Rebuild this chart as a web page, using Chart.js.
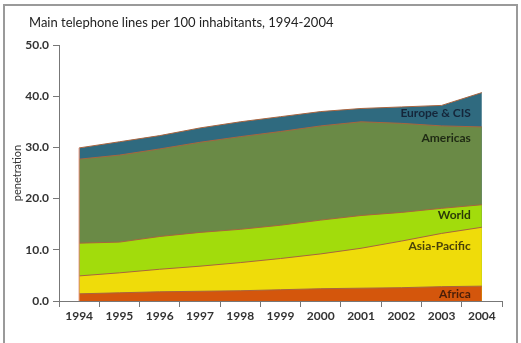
<!DOCTYPE html>
<html>
<head>
<meta charset="utf-8">
<script src="https://cdn.jsdelivr.net/npm/chart.js@4.4.1/dist/chart.umd.min.js"></script>
<style>
  html, body { margin: 0; padding: 0; background: #fff; }
  #wrap { position: relative; width: 521px; height: 343px; overflow: hidden; }
  #frame { position: absolute; left: 3px; top: 4px; width: 515px; height: 360px; border: 2px solid #9a9a9a; box-sizing: border-box; }
  #title { position: absolute; left: 29px; top: 14px; font: 13px Lato, sans-serif; color: #222; }
  canvas { position: absolute; left: 0; top: 0; }
</style>
</head>
<body>
<div id="wrap">
  <div id="frame"></div>
  <canvas id="myChart" width="521" height="343"></canvas>
  <div id="title">Main telephone lines per 100 inhabitants, 1994-2004</div>
</div>
<script>
  const years = ["1994", "1995", "1996", "1997", "1998", "1999", "2000", "2001", "2002", "2003", "2004"];

  const africa      = [1.4, 1.6, 1.8, 1.9, 2.0, 2.2, 2.4, 2.5, 2.6, 2.8, 2.9];
  const asiaPacific = [4.9, 5.5, 6.2, 6.8, 7.5, 8.3, 9.2, 10.3, 11.7, 13.2, 14.4];
  const world       = [11.3, 11.5, 12.6, 13.4, 14.0, 14.8, 15.8, 16.7, 17.3, 18.1, 18.8];
  const americas    = [27.7, 28.5, 29.7, 31.0, 32.1, 33.1, 34.2, 35.0, 34.7, 34.2, 34.0];
  const europeCis   = [29.9, 31.1, 32.3, 33.8, 35.0, 36.0, 37.0, 37.6, 37.9, 38.2, 40.7];

  const seriesNames = ["Africa", "Asia-Pacific", "World", "Americas", "Europe & CIS"];
  const yTicks = [0, 10, 20, 30, 40, 50];

  function makeSet(label, data, fill, text, drop) {
    return {
      label: label,
      data: data,
      backgroundColor: fill,
      borderColor: "#a8643f",
      borderWidth: 1,
      fill: "origin",
      pointRadius: 0,
      tension: 0,
      textColor: text,
      labelDrop: drop
    };
  }

  // drop = pixels below the 2004 value where the series name sits
  const datasets = [
    makeSet(seriesNames[0], africa, "#d4560c", "#4a1e08", 8),
    makeSet(seriesNames[1], asiaPacific, "#efdc0a", "#4a4208", 19),
    makeSet(seriesNames[2], world, "#a2dc0c", "#2b3a08", 10),
    makeSet(seriesNames[3], americas, "#6a8a46", "#1f2a14", 11),
    makeSet(seriesNames[4], europeCis, "#2f6a7f", "#15263a", 21)
  ];

  const areaLabels = {
    id: "areaLabels",
    afterDatasetsDraw(chart) {
      const ctx = chart.ctx;
      const x = chart.scales.x;
      const y = chart.scales.y;
      const last = years.length - 1;
      ctx.save();
      // left edge of the areas
      ctx.strokeStyle = "#e08a70";
      ctx.lineWidth = 1;
      ctx.beginPath();
      ctx.moveTo(x.getPixelForValue(0), y.getPixelForValue(europeCis[0]));
      ctx.lineTo(x.getPixelForValue(0), y.getPixelForValue(0));
      ctx.stroke();

      ctx.font = "bold 12px Lato, sans-serif";
      ctx.textAlign = "right";
      ctx.textBaseline = "middle";
      chart.data.datasets.forEach((ds) => {
        const px = x.getPixelForValue(last) - 11;
        const py = y.getPixelForValue(ds.data[last]) + ds.labelDrop;
        ctx.fillStyle = ds.textColor;
        ctx.fillText(ds.label, px, py);
      });
      ctx.restore();
    }
  };

  new Chart(document.querySelector("#myChart"), {
    type: "line",
    data: { labels: years, datasets: datasets },
    options: {
      responsive: false,
      animation: false,
      layout: { padding: { left: 11, right: 19, top: 45, bottom: 10 } },
      plugins: { legend: { display: false }, tooltip: { enabled: false } },
      scales: {
        x: {
          offset: true,
          grid: { offset: true, drawOnChartArea: false, tickLength: 6, color: "#777" },
          border: { color: "#777" },
          ticks: { color: "#333", font: { family: "Lato", size: 12, weight: "bold" }, maxRotation: 0, padding: 2 },
          afterFit(scale) { scale.height = 32; }
        },
        y: {
          min: 0,
          max: 50,
          afterBuildTicks(scale) { scale.ticks = yTicks.map((v) => ({ value: v })); },
          grid: { drawOnChartArea: false, tickLength: 6, color: "#777" },
          border: { color: "#777" },
          ticks: { color: "#333", font: { family: "Lato", size: 12, weight: "bold" }, padding: 4,
                   callback: (v) => Number(v).toFixed(1) },
          title: { display: true, text: "penetration", color: "#333", font: { family: "Lato", size: 11 }, padding: 0 },
          afterFit(scale) { scale.width = 48; }
        }
      }
    },
    plugins: [areaLabels]
  });
</script>
</body>
</html>
